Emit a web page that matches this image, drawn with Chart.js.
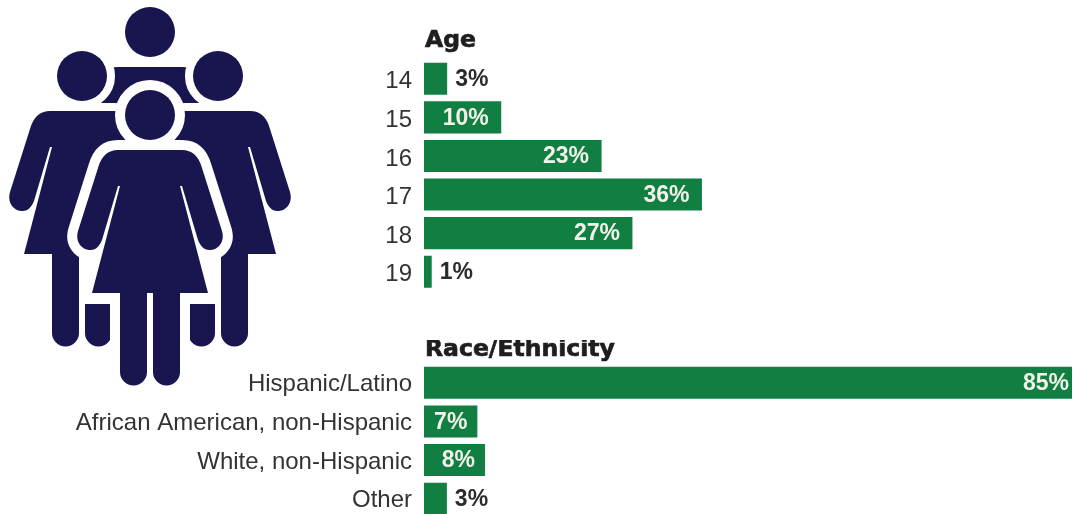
<!DOCTYPE html>
<html>
<head>
<meta charset="utf-8">
<script src="https://cdn.jsdelivr.net/npm/chart.js@4"></script>
<style>
html,body{margin:0;padding:0;background:#fff;width:1073px;height:514px;overflow:hidden}
canvas{position:absolute;left:0}
svg{position:absolute;left:0;top:0}
</style>
</head>
<body>
<svg width="300" height="400" viewBox="0 0 300 400">
<defs>
<g id="woman">
<circle cx="150" cy="115" r="25"/>
<path d="M118 150H182Q197 150 202 168L222 231C225 241 219 249 211 250C204 251 200 245 198 240L182 186H180L208 293H180V372A13.5 13.5 0 0 1 153 372V293H147V372A13.5 13.5 0 0 1 120 372V293H92L120 186H118L102 240C100 245 96 251 89 250C81 249 75 241 78 231L98 168Q103 150 118 150Z"/>
</g>
</defs>
<g fill="#18154f">
<use href="#woman" y="-83"/>
<use href="#woman" x="-68" y="-39" stroke="#fff" stroke-width="16" style="paint-order:stroke" stroke-linejoin="round"/>
<use href="#woman" x="68" y="-39" stroke="#fff" stroke-width="16" style="paint-order:stroke" stroke-linejoin="round"/>
<rect x="79" y="254" width="142" height="50" fill="#fff"/>
<use href="#woman" stroke="#fff" stroke-width="20" style="paint-order:stroke" stroke-linejoin="round"/>
</g>
</svg>
<canvas id="age" style="top:0"></canvas>
<canvas id="race" style="top:340px"></canvas>
<script>
const ageTitle = "Age";
const ageCategories = ["14","15","16","17","18","19"];
const ageValues = [3,10,23,36,27,1];
const raceTitle = "Race/Ethnicity";
const raceCategories = ["Hispanic/Latino","African American, non-Hispanic","White, non-Hispanic","Other"];
const raceValues = [85,7,8,3];

const GREEN = "#107f41";
const labelPlugin = {
  id: "barLabels",
  afterDatasetsDraw(chart, args, opts) {
    const {ctx, scales} = chart;
    const meta = chart.getDatasetMeta(0);
    const vals = chart.data.datasets[0].data;
    ctx.save();
    ctx.font = "bold 23px 'Liberation Sans', Arial, sans-serif";
    ctx.textBaseline = "middle";
    meta.data.forEach((bar, i) => {
      const text = vals[i] + "%";
      if (vals[i] >= 5) {
        const inset = vals[i] > 50 ? 3 : vals[i] < 10 ? 10 : 12.5;
        ctx.fillStyle = "#f2f2ea";
        ctx.textAlign = "right";
        ctx.fillText(text, bar.x - inset, bar.y + 1);
      } else {
        ctx.fillStyle = "#2b2b2b";
        ctx.textAlign = "left";
        ctx.fillText(text, bar.x + 8, bar.y + 1);
      }
    });
    ctx.font = "bold 23.5px 'DejaVu Sans', sans-serif";
    ctx.fillStyle = "#1e1e1e";
    ctx.strokeStyle = "#1e1e1e";
    ctx.lineWidth = 0.7;
    ctx.textAlign = "left";
    ctx.textBaseline = "alphabetic";
    ctx.fillText(opts.title, scales.x.left + 1, opts.titleY);
    ctx.strokeText(opts.title, scales.x.left + 1, opts.titleY);
    ctx.restore();
  }
};

function makeChart(id, h, title, titleY, cats, vals, xMax, padTop, padRight, labelShift) {
  const cv = document.getElementById(id);
  cv.style.width = "1073px";
  cv.style.height = h + "px";
  return new Chart(cv, {
    type: "bar",
    data: { labels: cats, datasets: [{ data: vals, backgroundColor: GREEN, borderWidth: 0,
      categoryPercentage: 1, barPercentage: 0.831 }] },
    plugins: [labelPlugin],
    options: {
      indexAxis: "y", responsive: false, animation: false,
      layout: { padding: { top: padTop, right: padRight, left: 0, bottom: 0 } },
      plugins: { legend: { display: false }, tooltip: { enabled: false }, title: { display: false },
        barLabels: { title, titleY } },
      scales: {
        x: { display: false, min: 0, max: xMax },
        y: { afterFit(s) { s.width = 424; s.paddingTop = 0; s.paddingBottom = 0; },
          grid: { display: false, drawTicks: false, tickLength: 0 }, border: { display: false },
          ticks: { color: "#333", padding: 12, labelOffset: labelShift, autoSkip: false, font: { size: 24, family: "'Liberation Sans', Arial, sans-serif" } } }
      }
    }
  });
}
document.getElementById("age").width = 1073; document.getElementById("age").height = 291;
document.getElementById("race").width = 1073; document.getElementById("race").height = 178;
makeChart("age", 291, ageTitle, 47, ageCategories, ageValues, 84, 59.5, 0.5, 3);
makeChart("race", 178, raceTitle, 16, raceCategories, raceValues, 85, 23.5, 1, 2);
</script>
</body>
</html>
